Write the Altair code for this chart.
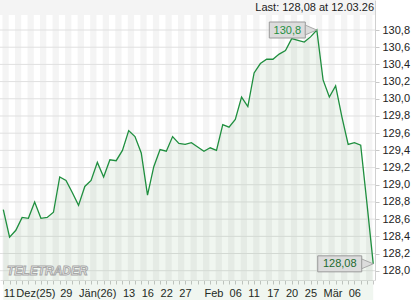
import json
import altair as alt
import pandas as pd

# ---- data ----
values = [
    128.71, 128.39, 128.47, 128.62, 128.61, 128.80, 128.61, 128.62, 128.68, 129.09,
    129.05, 128.91, 128.76, 128.98, 129.05, 129.26, 129.09, 129.29, 129.28, 129.40,
    129.63, 129.56, 129.37, 128.88, 129.21, 129.41, 129.39, 129.56, 129.48, 129.47,
    129.49, 129.44, 129.39, 129.43, 129.40, 129.70, 129.67, 129.76, 130.02, 129.91,
    130.30, 130.41, 130.46, 130.46, 130.52, 130.56, 130.70, 130.68, 130.66, 130.72,
    130.80, 130.22, 130.02, 130.15, 129.79, 129.47, 129.49, 129.46, 128.78, 128.08,
]
x_label_at = [0, 2, 9, 12, 19, 22, 25, 28, 32, 36, 39, 42, 45, 48, 51, 55]
x_label_text = ["11", "Dez(25)", "29", "Jän(26)", "13", "16", "22", "27",
                "Feb", "06", "11", "17", "20", "25", "Mär", "06"]
y_ticks = [128.0, 128.2, 128.4, 128.6, 128.8, 129.0, 129.2, 129.4,
           129.6, 129.8, 130.0, 130.2, 130.4, 130.6, 130.8]
last_value = 128.08
last_date = "12.03.26"
watermark = "TELETRADER"

FONT = "Liberation Sans"
W, H = 375, 280

n = len(values)
df = pd.DataFrame({"i": list(range(n)), "v": values})

def fmt(v):
    s = f"{v:.2f}".rstrip("0").rstrip(".")
    return s.replace(".", ",")

xscale = alt.Scale(domain=[-0.526, 59.28], nice=False, zero=False)
yscale = alt.Scale(domain=[127.892, 131.149], nice=False, zero=False)

lab_expr = (
    f"indexof({json.dumps(x_label_at)}, datum.value) >= 0 ? "
    f"{json.dumps(x_label_text, ensure_ascii=False)}[indexof({json.dumps(x_label_at)}, datum.value)] : ''"
)

XAXIS = alt.Axis(
    values=list(range(n)), labelExpr=lab_expr, grid=False, title=None,
    tickSize=4, tickColor="#c8c8c8", domainColor="#e0e0e0",
    labelAlign="left", labelPadding=3, labelOverlap=False, labelFlush=False,
    labelBound=False, labelFont=FONT, labelFontSize=11, labelColor="#222222")
YAXIS = alt.Axis(
    orient="right", values=y_ticks, grid=False, title=None,
    labelExpr="replace(format(datum.value, '.1f'), '.', ',')",
    tickSize=4, tickColor="#c8c8c8", domainColor="#d0d0d0",
    labelPadding=3, labelFont=FONT, labelFontSize=11, labelColor="#222222")

def X(field):
    return alt.X(field, scale=xscale, axis=XAXIS)

def Y(field):
    return alt.Y(field, scale=yscale, axis=YAXIS)

# stripes (white bands on grey background), one per data step
stripe_df = pd.DataFrame({"s": [k for k in range(-1, n) if k % 2 != 0]})
stripes = alt.Chart(stripe_df).transform_calculate(
    xs="datum.s - 0.14", xe="datum.s + 0.86"
).mark_rect(color="#ffffff", clip=True).encode(
    x=X("xs:Q"),
    x2="xe:Q",
    y=alt.value(0),
    y2=alt.value(H),
)

header = alt.Chart(pd.DataFrame({"a": [0]})).mark_rect(color="#f4f4f4").encode(
    x=alt.value(0), x2=alt.value(W), y=alt.value(0), y2=alt.value(15)
)

grid = alt.Chart(pd.DataFrame({"t": y_ticks})).mark_rule(color="#e0e0e0", strokeWidth=1).encode(
    y=Y("t:Q")
)

area = alt.Chart(df).mark_area(color="#3a8a3a", opacity=0.08).encode(
    x=X("i:Q"), y=Y("v:Q"),
)

line = alt.Chart(df).mark_line(color="#1f8f3f", strokeWidth=1.3).encode(
    x=X("i:Q"), y=Y("v:Q"),
)

def callout(idx, val, box_w, text_color):
    d = pd.DataFrame({"i": [idx], "v": [val], "t": [fmt(val)]})
    base = alt.Chart(d)
    enc = dict(x=X("i:Q"), y=Y("v:Q"))
    box = base.mark_rect(fill="#dcdcdc", stroke="#9a9a9a", strokeWidth=1,
                         xOffset=-(11.5 + box_w), x2Offset=-11.5,
                         yOffset=-8, y2Offset=8).encode(x2="i:Q", y2="v:Q", **enc)
    tri = base.mark_point(shape="M -1 -0.85 L 1 0 L -1 0.85 Z", size=132, filled=True,
                          fill="#dcdcdc", stroke="#9a9a9a", strokeWidth=0.8,
                          opacity=1, xOffset=-5.75).encode(**enc)
    txt = base.mark_text(font=FONT, fontSize=11, color=text_color, align="center",
                         baseline="middle", xOffset=-(11.5 + box_w / 2), yOffset=0.5).encode(
        text="t:N", **enc)
    return box + tri + txt

imax = max(range(n), key=lambda k: values[k])
c_max = callout(imax, values[imax], 36, "#1f8f3f")
c_last = callout(n - 1, last_value, 44, "#1d6b30")

title_txt = alt.Chart(pd.DataFrame({"t": [f"Last: {fmt(last_value)} at {last_date}"]})).mark_text(
    font=FONT, fontSize=11, color="#222222", align="right", baseline="middle"
).encode(text="t:N", x=alt.value(W - 1), y=alt.value(8))

wm = alt.Chart(pd.DataFrame({"t": [watermark]})).mark_text(
    font=FONT, fontSize=12, fontWeight="bold", fontStyle="italic", fill="#ffffff",
    stroke="#a8a8a8", strokeWidth=1, align="left", baseline="middle"
).encode(text="t:N", x=alt.value(7), y=alt.value(271))

chart = alt.layer(
    stripes, header, grid, area, line, c_max, c_last, title_txt, wm
).properties(
    width=W, height=H,
    padding={"left": 0, "top": 0, "right": 45, "bottom": 20},
    autosize=alt.AutoSizeParams(type="none"),
    background="#ffffff",
).configure_view(stroke=None, fill="#f4f4f4")

chart.save("out.html", embed_options={"renderer": "svg", "actions": False})
